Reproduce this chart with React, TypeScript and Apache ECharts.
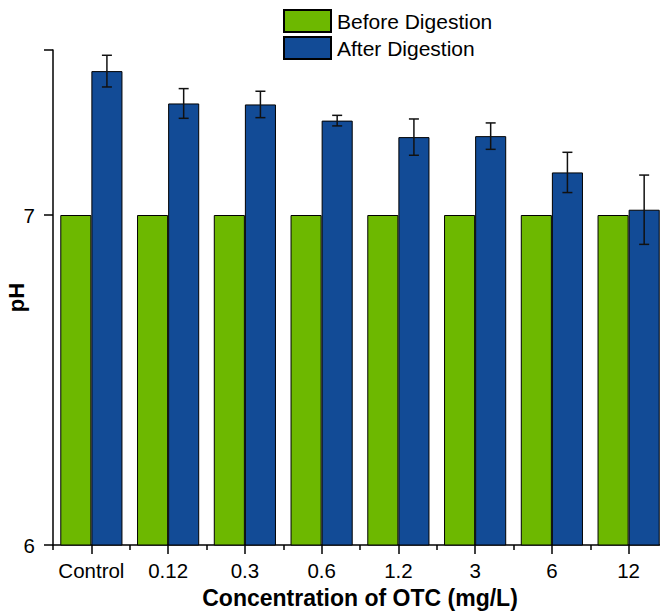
import React, { useEffect, useRef } from "react";
import * as echarts from "echarts";

const categories = ["Control", "0.12", "0.3", "0.6", "1.2", "3", "6", "12"];
const beforeDigestion = [7.0, 7.0, 7.0, 7.0, 7.0, 7.0, 7.0, 7.0];
const afterDigestion = [7.436, 7.338, 7.335, 7.286, 7.236, 7.239, 7.129, 7.016];
const afterError = [0.048, 0.045, 0.04, 0.016, 0.055, 0.04, 0.061, 0.105];

const FONT = "'Liberation Sans', Arial, sans-serif";
const GREEN = "#6DB800";
const BLUE = "#124B96";
const CAT_GAP = 0.19;

export default function App() {
  const ref = useRef<HTMLDivElement>(null);
  useEffect(() => {
    if (!ref.current) return;
    const chart = echarts.init(ref.current, undefined, { renderer: "svg" });
    const errData = afterDigestion.map((v, i) => [i, v - afterError[i], v + afterError[i]]);
    chart.setOption({
      animation: false,
      backgroundColor: "#fff",
      textStyle: { fontFamily: FONT },
      legend: {
        orient: "vertical",
        left: 283,
        top: 9,
        padding: 0,
        itemWidth: 47,
        itemHeight: 22,
        itemGap: 3,
        icon: "rect",
        data: ["Before Digestion", "After Digestion"],
        textStyle: { fontFamily: FONT, fontSize: 21, color: "#000", padding: [0, 0, 0, 1] },
      },
      grid: { left: 53, right: -7, top: 50, bottom: 66, containLabel: false, outerBoundsMode: "none" },
      xAxis: [
        {
          type: "category",
          data: categories,
          axisLine: { show: true, lineStyle: { color: "#000", width: 1.5 } },
          axisTick: { show: true, interval: 0, alignWithLabel: true, length: 9, lineStyle: { color: "#000", width: 1.5 } },
          axisLabel: { color: "#000", fontSize: 20.5, fontFamily: FONT, margin: 15, interval: 0 },
          name: "Concentration of OTC (mg/L)",
          nameLocation: "middle",
          nameGap: 41,
          nameMoveOverlap: false,
          nameTextStyle: { color: "#000", fontSize: 23, fontWeight: "bold", fontFamily: FONT },
        },
        {
          type: "category",
          data: categories,
          position: "bottom",
          axisLine: { show: false },
          axisTick: { show: true, interval: 0, alignWithLabel: false, length: 5, lineStyle: { color: "#000", width: 1.5 } },
          axisLabel: { show: false },
        },
      ],
      yAxis: {
        type: "value",
        min: 6,
        max: 7.5,
        interval: 1,
        splitLine: { show: false },
        axisLine: { show: true, lineStyle: { color: "#000", width: 1.5 } },
        axisTick: { show: true, length: 9, lineStyle: { color: "#000", width: 1.5 } },
        axisLabel: {
          color: "#000",
          fontSize: 20.5,
          fontFamily: FONT,
          margin: 18,
          formatter: (v: number) => (Number.isInteger(v) ? String(v) : ""),
        },
        name: "pH",
        nameLocation: "middle",
        nameGap: 26,
        nameMoveOverlap: false,
        nameRotate: 90,
        nameTextStyle: { color: "#000", fontSize: 22, fontWeight: "bold", fontFamily: FONT },
      },
      series: [
        {
          name: "Before Digestion",
          type: "bar",
          data: beforeDigestion,
          barGap: "0%",
          barCategoryGap: CAT_GAP * 100 + "%",
          itemStyle: { color: GREEN, borderColor: "#000", borderWidth: 1 },
        },
        {
          name: "After Digestion",
          type: "bar",
          data: afterDigestion,
          barGap: "0%",
          barCategoryGap: CAT_GAP * 100 + "%",
          itemStyle: { color: BLUE, borderColor: "#000", borderWidth: 1 },
        },
        {
          name: "err",
          type: "custom",
          data: errData,
          z: 10,
          renderItem: (params: any, api: any) => {
            const idx = api.value(0);
            const lo = api.coord([idx, api.value(1)]);
            const hi = api.coord([idx, api.value(2)]);
            const band = api.size([1, 0])[0];
            const off = (band * (1 - CAT_GAP)) / 4;
            const x = lo[0] + off;
            const cap = 5;
            const style = { stroke: "#111", lineWidth: 1.5 };
            return {
              type: "group",
              children: [
                { type: "line", shape: { x1: x, y1: hi[1], x2: x, y2: lo[1] }, style },
                { type: "line", shape: { x1: x - cap, y1: hi[1], x2: x + cap, y2: hi[1] }, style },
                { type: "line", shape: { x1: x - cap, y1: lo[1], x2: x + cap, y2: lo[1] }, style },
              ],
            };
          },
        },
      ],
    });
    return () => chart.dispose();
  }, []);
  return (
    <div
      ref={ref}
      style={{ position: "fixed", left: 0, top: 0, width: 660, height: 611, background: "#fff" }}
    />
  );
}
